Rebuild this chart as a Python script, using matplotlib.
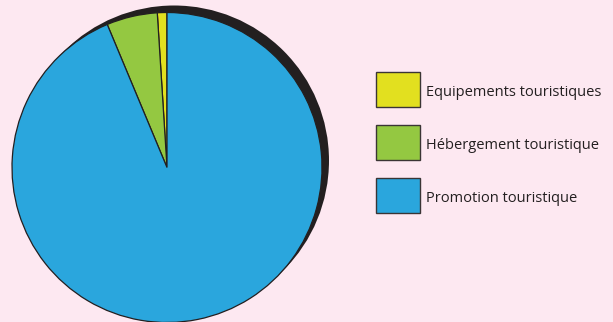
import matplotlib
matplotlib.use("Agg")
import matplotlib.pyplot as plt
from matplotlib.patches import Circle, Rectangle

categories = ["Equipements touristiques", "Hébergement touristique", "Promotion touristique"]
values = [1.0, 5.3, 93.7]
colors = ["#e2e01f", "#94c841", "#2aa6dd"]

bg = "#fde8f1"
W, H = 613, 322
fig = plt.figure(figsize=(W / 100, H / 100), dpi=100, facecolor=bg)
ax = fig.add_axes([0, 0, 1, 1])
ax.set_xlim(0, W)
ax.set_ylim(0, H)
ax.set_aspect("equal")
ax.axis("off")
ax.set_facecolor(bg)

cx, cy, r = 167, H - 167.5, 155
# shadow
ax.add_patch(Circle((cx + 7, cy + 7), r, facecolor="#231f20", edgecolor="none", zorder=1))
ax.pie(values, colors=colors, startangle=90, counterclock=True, center=(cx, cy), radius=r,
       wedgeprops=dict(edgecolor="#231f20", linewidth=0.9), frame=True)
ax.set_xlim(0, W)
ax.set_ylim(0, H)
ax.axis("off")

# legend
x0, y_top, bw, bh, step = 376, H - 71.5, 44, 35.5, 53
for i, (lab, col) in enumerate(zip(categories, colors)):
    yt = y_top - i * step
    ax.add_patch(Rectangle((x0, yt - bh), bw, bh, facecolor=col, edgecolor="#3a3535", linewidth=1.0, zorder=3))
    ax.text(x0 + 49.5, yt - 24.5, lab, fontsize=10.5, family="Open Sans", color="#231f20",
            va="baseline", ha="left", zorder=3)

fig.savefig("out.png", dpi=100, facecolor=bg)
